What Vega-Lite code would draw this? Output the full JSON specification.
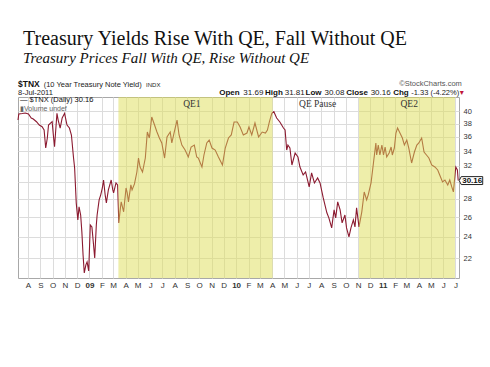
{
  "$schema": "https://vega.github.io/schema/vega-lite/v6.json",
  "width": 441,
  "height": 181,
  "autosize": {"type": "none"},
  "padding": {"left": 18, "top": 97, "right": 31, "bottom": 89},
  "background": "white",
  "title": {
    "text": "Treasury Yields Rise With QE, Fall Without QE",
    "subtitle": "Treasury Prices Fall With QE, Rise Without QE",
    "anchor": "start",
    "frame": "group",
    "font": "Liberation Serif",
    "fontSize": 20,
    "fontWeight": "normal",
    "color": "#111111",
    "subtitleFont": "Liberation Serif",
    "subtitleFontStyle": "italic",
    "subtitleFontSize": 15,
    "subtitleColor": "#111111",
    "subtitlePadding": 2,
    "offset": 14,
    "dx": 5
  },
  "config": {
    "view": {"stroke": "#a8a8a8"},
    "axis": {"gridColor": "#dcdcdc", "gridWidth": 1, "ticks": false, "domain": false, "title": null}
  },
  "data": {"values": [{}]},
  "datasets": {
    "tnx": [
      {"date": "2008-07-07", "value": 38.56}, {"date": "2008-07-09", "value": 39.52}, {"date": "2008-07-18", "value": 39.60},
      {"date": "2008-07-25", "value": 39.68}, {"date": "2008-08-02", "value": 39.52}, {"date": "2008-08-09", "value": 38.88},
      {"date": "2008-08-14", "value": 38.72}, {"date": "2008-08-22", "value": 38.30}, {"date": "2008-08-29", "value": 37.79},
      {"date": "2008-09-05", "value": 37.53}, {"date": "2008-09-10", "value": 37.03}, {"date": "2008-09-14", "value": 34.42},
      {"date": "2008-09-18", "value": 35.85}, {"date": "2008-09-21", "value": 37.79}, {"date": "2008-09-30", "value": 38.30},
      {"date": "2008-10-03", "value": 36.29}, {"date": "2008-10-06", "value": 34.61}, {"date": "2008-10-12", "value": 39.63},
      {"date": "2008-10-15", "value": 38.56}, {"date": "2008-10-20", "value": 37.33}, {"date": "2008-10-25", "value": 38.88},
      {"date": "2008-10-31", "value": 39.63}, {"date": "2008-11-06", "value": 37.79}, {"date": "2008-11-12", "value": 37.33},
      {"date": "2008-11-17", "value": 36.29}, {"date": "2008-11-22", "value": 33.23}, {"date": "2008-11-25", "value": 31.74},
      {"date": "2008-11-29", "value": 27.55}, {"date": "2008-12-03", "value": 25.71}, {"date": "2008-12-06", "value": 27.11},
      {"date": "2008-12-10", "value": 26.23}, {"date": "2008-12-13", "value": 24.49}, {"date": "2008-12-16", "value": 22.30},
      {"date": "2008-12-19", "value": 20.73}, {"date": "2008-12-23", "value": 21.42}, {"date": "2008-12-26", "value": 21.68},
      {"date": "2008-12-30", "value": 20.90}, {"date": "2009-01-03", "value": 25.19}, {"date": "2009-01-07", "value": 24.99},
      {"date": "2009-01-10", "value": 23.70}, {"date": "2009-01-14", "value": 22.03}, {"date": "2009-01-18", "value": 25.19},
      {"date": "2009-01-20", "value": 26.23}, {"date": "2009-01-25", "value": 27.89}, {"date": "2009-01-29", "value": 28.46},
      {"date": "2009-02-02", "value": 29.27}, {"date": "2009-02-05", "value": 30.23}, {"date": "2009-02-09", "value": 28.46},
      {"date": "2009-02-12", "value": 27.55}, {"date": "2009-02-17", "value": 29.04}, {"date": "2009-02-24", "value": 30.23},
      {"date": "2009-02-28", "value": 29.04}, {"date": "2009-03-02", "value": 28.69}, {"date": "2009-03-08", "value": 29.87},
      {"date": "2009-03-12", "value": 29.63}, {"date": "2009-03-15", "value": 25.40}, {"date": "2009-03-19", "value": 27.00},
      {"date": "2009-03-21", "value": 27.66}, {"date": "2009-03-27", "value": 26.57}, {"date": "2009-04-02", "value": 29.27},
      {"date": "2009-04-05", "value": 28.69}, {"date": "2009-04-08", "value": 27.66}, {"date": "2009-04-14", "value": 29.63},
      {"date": "2009-04-17", "value": 29.04}, {"date": "2009-04-23", "value": 29.75}, {"date": "2009-04-29", "value": 31.23},
      {"date": "2009-05-03", "value": 33.05}, {"date": "2009-05-07", "value": 31.87}, {"date": "2009-05-13", "value": 31.23},
      {"date": "2009-05-20", "value": 33.05}, {"date": "2009-05-25", "value": 36.73}, {"date": "2009-05-30", "value": 35.85},
      {"date": "2009-06-05", "value": 39.04}, {"date": "2009-06-12", "value": 37.79}, {"date": "2009-06-18", "value": 36.73},
      {"date": "2009-06-24", "value": 35.85}, {"date": "2009-06-30", "value": 35.13}, {"date": "2009-07-07", "value": 33.05},
      {"date": "2009-07-13", "value": 36.00}, {"date": "2009-07-21", "value": 36.73}, {"date": "2009-07-25", "value": 35.13},
      {"date": "2009-07-31", "value": 36.73}, {"date": "2009-08-07", "value": 38.56}, {"date": "2009-08-12", "value": 36.29},
      {"date": "2009-08-19", "value": 34.84}, {"date": "2009-08-27", "value": 34.14}, {"date": "2009-09-04", "value": 33.19},
      {"date": "2009-09-11", "value": 34.56}, {"date": "2009-09-19", "value": 34.84}, {"date": "2009-09-25", "value": 33.19},
      {"date": "2009-09-29", "value": 33.05}, {"date": "2009-10-08", "value": 31.87}, {"date": "2009-10-13", "value": 33.46},
      {"date": "2009-10-20", "value": 35.13}, {"date": "2009-10-26", "value": 35.56}, {"date": "2009-11-02", "value": 34.42},
      {"date": "2009-11-10", "value": 34.14}, {"date": "2009-11-18", "value": 33.19}, {"date": "2009-11-28", "value": 32.13},
      {"date": "2009-12-05", "value": 34.42}, {"date": "2009-12-13", "value": 35.85}, {"date": "2009-12-20", "value": 36.29},
      {"date": "2009-12-27", "value": 38.25}, {"date": "2010-01-04", "value": 38.25}, {"date": "2010-01-11", "value": 37.48},
      {"date": "2010-01-19", "value": 36.29}, {"date": "2010-01-28", "value": 36.58}, {"date": "2010-02-02", "value": 37.48},
      {"date": "2010-02-09", "value": 36.29}, {"date": "2010-02-17", "value": 38.10}, {"date": "2010-02-26", "value": 36.00},
      {"date": "2010-03-07", "value": 36.73}, {"date": "2010-03-15", "value": 36.58}, {"date": "2010-03-20", "value": 37.03},
      {"date": "2010-03-25", "value": 38.30}, {"date": "2010-03-31", "value": 39.63}, {"date": "2010-04-05", "value": 39.89},
      {"date": "2010-04-12", "value": 38.88}, {"date": "2010-04-20", "value": 38.25}, {"date": "2010-04-29", "value": 37.33},
      {"date": "2010-05-03", "value": 37.03}, {"date": "2010-05-07", "value": 34.14}, {"date": "2010-05-10", "value": 34.84},
      {"date": "2010-05-15", "value": 34.42}, {"date": "2010-05-20", "value": 32.13}, {"date": "2010-05-28", "value": 33.73},
      {"date": "2010-06-04", "value": 33.19}, {"date": "2010-06-09", "value": 31.87}, {"date": "2010-06-17", "value": 30.86},
      {"date": "2010-06-23", "value": 31.23}, {"date": "2010-07-02", "value": 29.39}, {"date": "2010-07-08", "value": 31.11},
      {"date": "2010-07-15", "value": 29.87}, {"date": "2010-07-23", "value": 30.49}, {"date": "2010-07-29", "value": 29.87},
      {"date": "2010-08-06", "value": 28.11}, {"date": "2010-08-15", "value": 26.46}, {"date": "2010-08-20", "value": 25.92},
      {"date": "2010-08-27", "value": 24.89}, {"date": "2010-09-02", "value": 26.78}, {"date": "2010-09-06", "value": 25.92},
      {"date": "2010-09-11", "value": 27.66}, {"date": "2010-09-17", "value": 26.78}, {"date": "2010-09-22", "value": 25.40},
      {"date": "2010-09-29", "value": 26.23}, {"date": "2010-10-03", "value": 24.89}, {"date": "2010-10-09", "value": 23.99},
      {"date": "2010-10-14", "value": 24.89}, {"date": "2010-10-20", "value": 25.71}, {"date": "2010-10-24", "value": 24.99},
      {"date": "2010-10-28", "value": 27.00}, {"date": "2010-11-03", "value": 24.99}, {"date": "2010-11-10", "value": 26.57},
      {"date": "2010-11-16", "value": 28.80}, {"date": "2010-11-22", "value": 27.89}, {"date": "2010-11-26", "value": 28.46},
      {"date": "2010-12-03", "value": 29.87}, {"date": "2010-12-09", "value": 32.39}, {"date": "2010-12-15", "value": 35.13},
      {"date": "2010-12-17", "value": 33.46}, {"date": "2010-12-21", "value": 34.84}, {"date": "2010-12-25", "value": 33.46},
      {"date": "2010-12-30", "value": 34.84}, {"date": "2011-01-03", "value": 33.46}, {"date": "2011-01-07", "value": 34.56},
      {"date": "2011-01-11", "value": 33.19}, {"date": "2011-01-17", "value": 33.73}, {"date": "2011-01-22", "value": 34.56},
      {"date": "2011-01-25", "value": 33.46}, {"date": "2011-01-30", "value": 34.42}, {"date": "2011-02-03", "value": 36.58},
      {"date": "2011-02-07", "value": 37.33}, {"date": "2011-02-13", "value": 36.58}, {"date": "2011-02-19", "value": 35.85},
      {"date": "2011-02-24", "value": 34.84}, {"date": "2011-03-02", "value": 35.56}, {"date": "2011-03-07", "value": 34.42},
      {"date": "2011-03-14", "value": 32.39}, {"date": "2011-03-21", "value": 33.87}, {"date": "2011-03-27", "value": 34.84},
      {"date": "2011-04-01", "value": 35.13}, {"date": "2011-04-08", "value": 35.85}, {"date": "2011-04-14", "value": 33.87},
      {"date": "2011-04-20", "value": 33.46}, {"date": "2011-04-26", "value": 33.05}, {"date": "2011-05-03", "value": 32.13},
      {"date": "2011-05-11", "value": 31.87}, {"date": "2011-05-18", "value": 31.49}, {"date": "2011-05-23", "value": 30.86},
      {"date": "2011-05-30", "value": 29.99}, {"date": "2011-06-05", "value": 30.23}, {"date": "2011-06-12", "value": 29.63},
      {"date": "2011-06-17", "value": 30.23}, {"date": "2011-06-22", "value": 29.39}, {"date": "2011-06-26", "value": 28.80},
      {"date": "2011-06-30", "value": 30.86}, {"date": "2011-07-02", "value": 31.87}, {"date": "2011-07-06", "value": 31.49},
      {"date": "2011-07-08", "value": 30.16}
    ],
    "periods": [
      {"start": "2009-03-14", "end": "2010-04-02", "label": "QE1"},
      {"start": "2010-11-03", "end": "2011-06-30", "label": "QE2"}
    ],
    "periodLabels": [
      {"label": "QE1", "date": "2009-09-13"},
      {"label": "QE Pause", "date": "2010-07-23"},
      {"label": "QE2", "date": "2011-03-08"}
    ],
    "last": [{"date": "2011-07-08", "value": 30.16, "label": "30.16"}]
  },
  "layer": [
    {
      "data": {"name": "tnx"},
      "mark": {"type": "line", "color": "#8b1a30", "strokeWidth": 1.1},
      "encoding": {
        "x": {
          "field": "date", "type": "temporal",
          "scale": {"domain": [{"year": 2008, "month": 7, "date": 7, "utc": true}, {"year": 2011, "month": 7, "date": 10, "utc": true}]},
          "axis": {
            "tickCount": {"interval": "month", "step": 1},
            "labelExpr": "month(datum.value) == 0 ? timeFormat(datum.value, '%y') : slice(timeFormat(datum.value, '%b'), 0, 1)",
            "labelFontWeight": {"condition": {"test": "month(datum.value) == 0", "value": "bold"}, "value": "normal"},
            "labelFont": "Liberation Sans", "labelFontSize": 8, "labelColor": "#333333",
            "labelPadding": 3, "labelOverlap": false, "labelFlush": false
          }
        },
        "y": {
          "field": "value", "type": "quantitative",
          "scale": {"type": "log", "domain": [20.31, 42.34], "nice": false, "zero": false},
          "axis": {
            "orient": "right",
            "values": [22, 24, 26, 28, 30, 32, 34, 36, 38, 40],
            "labelExpr": "datum.value == 30 ? '' : datum.label",
            "labelFont": "Liberation Sans", "labelFontSize": 7.5, "labelColor": "#333333", "labelPadding": 4
          }
        }
      }
    },
    {
      "data": {"name": "periods"},
      "mark": {"type": "rect", "color": "#dede55", "opacity": 0.5},
      "encoding": {
        "x": {"field": "start", "type": "temporal"},
        "x2": {"field": "end"}
      }
    },
    {
      "data": {"name": "periodLabels"},
      "mark": {"type": "text", "font": "Liberation Serif", "fontSize": 9.5, "color": "#333333", "baseline": "middle"},
      "encoding": {
        "x": {"field": "date", "type": "temporal"},
        "y": {"datum": 41.15},
        "text": {"field": "label"}
      }
    },
    {
      "data": {"name": "last"},
      "mark": {"type": "point", "shape": "M-1,0 L-0.83,-0.33 L0.96,-0.33 L0.96,0.33 L-0.83,0.33 Z", "size": 576, "filled": true, "fill": "white", "stroke": "#222222", "strokeWidth": 1, "opacity": 1, "xOffset": 13},
      "encoding": {
        "x": {"field": "date", "type": "temporal"},
        "y": {"field": "value", "type": "quantitative"}
      }
    },
    {
      "data": {"name": "last"},
      "mark": {"type": "text", "font": "Liberation Sans", "fontSize": 8, "fontWeight": "bold", "color": "#111111", "align": "center", "baseline": "middle", "dx": 14},
      "encoding": {
        "x": {"field": "date", "type": "temporal"},
        "y": {"field": "value", "type": "quantitative"},
        "text": {"field": "label"}
      }
    },
    {
      "mark": {"type": "text", "text": "— $TNX (Daily) 30.16", "font": "Liberation Sans", "fontSize": 7.5, "color": "#111111", "align": "left", "baseline": "middle"},
      "encoding": {"x": {"datum": {"year": 2008, "month": 7, "date": 12, "utc": true}}, "y": {"datum": 41.75}}
    },
    {
      "mark": {"type": "text", "text": "▮Volume undef", "font": "Liberation Sans", "fontSize": 7, "color": "#666666", "align": "left", "baseline": "middle"},
      "encoding": {"x": {"datum": {"year": 2008, "month": 7, "date": 12, "utc": true}}, "y": {"datum": 40.3}}
    },
    {
      "mark": {"type": "text", "text": "$TNX", "font": "Liberation Sans", "fontSize": 8.5, "fontWeight": "bold", "color": "#111111", "align": "left", "baseline": "alphabetic"},
      "encoding": {"x": {"datum": {"year": 2008, "month": 7, "date": 7, "utc": true}}, "y": {"datum": 44.15}}
    },
    {
      "mark": {"type": "text", "text": "(10 Year Treasury Note Yield)", "font": "Liberation Sans", "fontSize": 7.5, "color": "#222222", "align": "left", "baseline": "alphabetic"},
      "encoding": {"x": {"datum": {"year": 2008, "month": 9, "date": 9, "utc": true}}, "y": {"datum": 44.15}}
    },
    {
      "mark": {"type": "text", "text": "INDX", "font": "Liberation Sans", "fontSize": 6, "color": "#222222", "align": "left", "baseline": "alphabetic"},
      "encoding": {"x": {"datum": {"year": 2009, "month": 5, "date": 22, "utc": true}}, "y": {"datum": 44.15}}
    },
    {
      "mark": {"type": "text", "text": "8-Jul-2011", "font": "Liberation Sans", "fontSize": 7.5, "color": "#222222", "align": "left", "baseline": "alphabetic"},
      "encoding": {"x": {"datum": {"year": 2008, "month": 7, "date": 7, "utc": true}}, "y": {"datum": 42.72}}
    },
    {
      "mark": {"type": "text", "text": "©StockCharts.com", "font": "Liberation Sans", "fontSize": 7.5, "color": "#555555", "align": "right", "baseline": "alphabetic"},
      "encoding": {"x": {"datum": {"year": 2011, "month": 7, "date": 17, "utc": true}}, "y": {"datum": 44.3}}
    },
    {
      "mark": {"type": "text", "text": "Open", "font": "Liberation Sans", "fontSize": 8, "fontWeight": "bold", "color": "#111111", "align": "left", "baseline": "alphabetic"},
      "encoding": {"x": {"datum": {"year": 2009, "month": 11, "date": 20, "utc": true}}, "y": {"datum": 42.72}}
    },
    {
      "mark": {"type": "text", "text": "31.69", "font": "Liberation Sans", "fontSize": 8, "color": "#222222", "align": "left", "baseline": "alphabetic"},
      "encoding": {"x": {"datum": {"year": 2010, "month": 1, "date": 19, "utc": true}}, "y": {"datum": 42.72}}
    },
    {
      "mark": {"type": "text", "text": "High", "font": "Liberation Sans", "fontSize": 8, "fontWeight": "bold", "color": "#111111", "align": "left", "baseline": "alphabetic"},
      "encoding": {"x": {"datum": {"year": 2010, "month": 3, "date": 14, "utc": true}}, "y": {"datum": 42.72}}
    },
    {
      "mark": {"type": "text", "text": "31.81", "font": "Liberation Sans", "fontSize": 8, "color": "#222222", "align": "left", "baseline": "alphabetic"},
      "encoding": {"x": {"datum": {"year": 2010, "month": 5, "date": 2, "utc": true}}, "y": {"datum": 42.72}}
    },
    {
      "mark": {"type": "text", "text": "Low", "font": "Liberation Sans", "fontSize": 8, "fontWeight": "bold", "color": "#111111", "align": "left", "baseline": "alphabetic"},
      "encoding": {"x": {"datum": {"year": 2010, "month": 6, "date": 23, "utc": true}}, "y": {"datum": 42.72}}
    },
    {
      "mark": {"type": "text", "text": "30.08", "font": "Liberation Sans", "fontSize": 8, "color": "#222222", "align": "left", "baseline": "alphabetic"},
      "encoding": {"x": {"datum": {"year": 2010, "month": 8, "date": 9, "utc": true}}, "y": {"datum": 42.72}}
    },
    {
      "mark": {"type": "text", "text": "Close", "font": "Liberation Sans", "fontSize": 8, "fontWeight": "bold", "color": "#111111", "align": "left", "baseline": "alphabetic"},
      "encoding": {"x": {"datum": {"year": 2010, "month": 10, "date": 2, "utc": true}}, "y": {"datum": 42.72}}
    },
    {
      "mark": {"type": "text", "text": "30.16", "font": "Liberation Sans", "fontSize": 8, "color": "#222222", "align": "left", "baseline": "alphabetic"},
      "encoding": {"x": {"datum": {"year": 2010, "month": 12, "date": 2, "utc": true}}, "y": {"datum": 42.72}}
    },
    {
      "mark": {"type": "text", "text": "Chg", "font": "Liberation Sans", "fontSize": 8, "fontWeight": "bold", "color": "#111111", "align": "left", "baseline": "alphabetic"},
      "encoding": {"x": {"datum": {"year": 2011, "month": 1, "date": 27, "utc": true}}, "y": {"datum": 42.72}}
    },
    {
      "mark": {"type": "text", "text": "-1.33 (-4.22%)", "font": "Liberation Sans", "fontSize": 7.5, "color": "#222222", "align": "left", "baseline": "alphabetic"},
      "encoding": {"x": {"datum": {"year": 2011, "month": 3, "date": 13, "utc": true}}, "y": {"datum": 42.72}}
    },
    {
      "mark": {"type": "text", "text": "▾", "font": "DejaVu Sans", "fontSize": 8, "color": "#c0143c", "align": "left", "baseline": "alphabetic"},
      "encoding": {"x": {"datum": {"year": 2011, "month": 7, "date": 12, "utc": true}}, "y": {"datum": 42.72}}
    }
  ]
}
